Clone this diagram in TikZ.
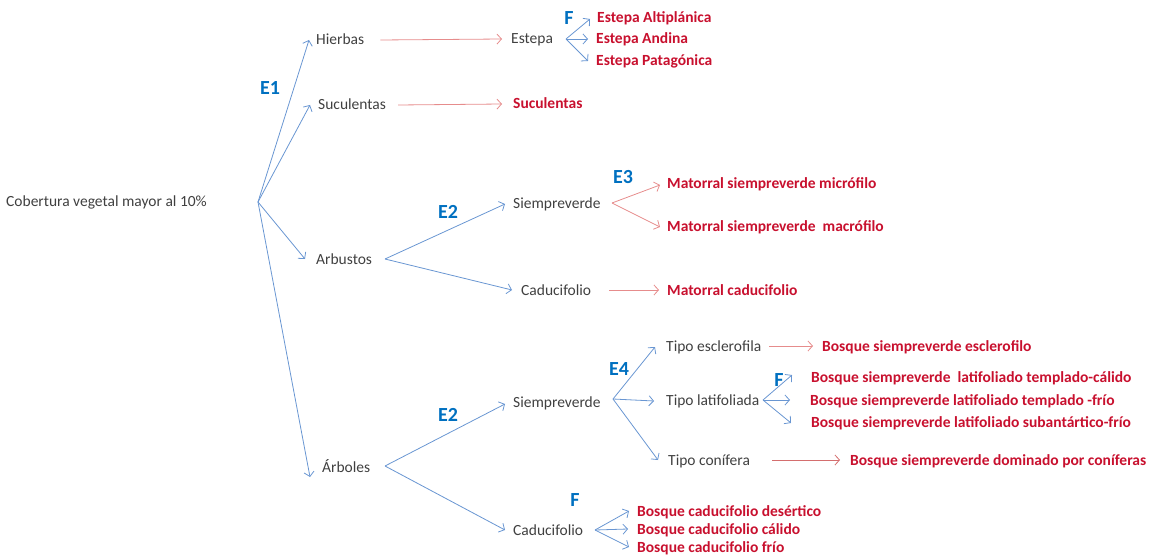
\documentclass[tikz,border=0pt]{standalone}
\usepackage{fontspec}
\setmainfont{Carlito}
\usetikzlibrary{arrows.meta}
\definecolor{txt}{RGB}{64,64,64}
\definecolor{redtxt}{RGB}{200,16,46}
\definecolor{lbl}{RGB}{0,112,192}
\definecolor{bline}{RGB}{105,150,210}
\definecolor{rline}{RGB}{230,140,140}
\definecolor{rdark}{RGB}{212,110,110}
\tikzset{
  term/.style={anchor=west, inner sep=0pt, text height=1.0em, text depth=0em,
    font=\fontsize{15.5}{18}\selectfont, text=txt},
  leaf/.style={term, font=\fontsize{15.5}{18}\selectfont\bfseries, text=redtxt},
  crit/.style={inner sep=0pt, font=\fontsize{20}{24}\selectfont\bfseries, text=lbl},
  tip/.style={-{Straight Barb[length=4.5pt,width=10pt,line width=0.8pt]}},
  barrow/.style={draw=bline, line width=0.8pt, tip},
  rarrow/.style={draw=rline, line width=0.8pt, tip},
  rdarrow/.style={draw=rdark, line width=0.8pt, tip},
}
\begin{document}
\begin{tikzpicture}[x=1pt,y=-1pt]
\useasboundingbox (0,0) rectangle (1156,556);

% root and first level
\node[term] (root) at (6,202) {Cobertura vegetal mayor al 10\%};
\coordinate (r) at (258,202);
\node[term] (hierbas) at (316,40) {Hierbas};
\node[term] (suc) at (318,105) {Suculentas};
\node[term] (arbustos) at (316,259) {Arbustos};
\node[term] (arboles) at (322,467) {Árboles};
\node[crit] (e1) at (270,88) {E1};

\draw[barrow] (r) -- ([xshift=-7pt]hierbas.west);
\draw[barrow] (r) -- ([xshift=-8pt]suc.west);
\draw[barrow] (r) -- ([xshift=-11pt]arbustos.west);
\draw[barrow] (r) -- ([xshift=-12pt,yshift=-10pt]arboles.west);

% herbs
\node[term] (estepa) at (511,39) {Estepa};
\draw[rarrow] ([xshift=16pt]hierbas.east) -- ([xshift=-9pt]estepa.west);
\coordinate (fe) at (566,39);
\node[crit] (f1) at (569,18) {F};
\node[leaf] (alti) at (597,18) {Estepa Altiplánica};
\node[leaf] (andina) at (596,39) {Estepa Andina};
\node[leaf] (pata) at (596,61) {Estepa Patagónica};
\draw[barrow] (fe) -- ([xshift=-7pt,yshift=-1pt]alti.west);
\draw[barrow] (fe) -- ([xshift=-8pt]andina.west);
\draw[barrow] (fe) -- ([xshift=-8pt]pata.west);

% succulents
\node[leaf] (sucR) at (513,104) {Suculentas};
\draw[rarrow] ([xshift=12pt,yshift=0pt]suc.east) -- ([xshift=-11pt]sucR.west);

% shrubs
\coordinate (fa) at (385,259);
\node[crit] (e2a) at (448,212) {E2};
\node[term] (sva) at (513,203) {Siempreverde};
\node[term] (cda) at (521,290) {Caducifolio};
\draw[barrow] (fa) -- ([xshift=-8pt,yshift=-1pt]sva.west);
\draw[barrow] (fa) -- ([xshift=-9pt]cda.west);

\coordinate (fs) at (612,203);
\node[crit] (e3) at (623,177) {E3};
\node[leaf] (micro) at (667,184) {Matorral siempreverde micrófilo};
\node[leaf] (macro) at (667,226) {Matorral siempreverde\ \ macrófilo};
\draw[rarrow] (fs) -- ([xshift=-7pt,yshift=-1pt]micro.west);
\draw[rarrow] (fs) -- ([xshift=-7pt,yshift=-1pt]macro.west);

\node[leaf] (matcad) at (667,290) {Matorral caducifolio};
\draw[rarrow] ([xshift=18pt]cda.east) -- ([xshift=-8pt]matcad.west);

% trees
\coordinate (ft) at (385,466);
\node[crit] (e2b) at (448,415) {E2};
\node[term] (svb) at (513,402) {Siempreverde};
\node[term] (cdb) at (513,530) {Caducifolio};
\draw[barrow] (ft) -- ([xshift=-8pt,yshift=-2pt]svb.west);
\draw[barrow] (ft) -- ([xshift=-8pt]cdb.west);

\coordinate (fv) at (613,399);
\node[crit] (e4) at (619,369) {E4};
\node[term] (escl) at (666,346) {Tipo esclerofila};
\node[term] (lati) at (666,400) {Tipo latifoliada};
\node[term] (coni) at (668,460) {Tipo conífera};
\draw[barrow] (fv) -- ([xshift=-11pt,yshift=-1pt]escl.west);
\draw[barrow] (fv) -- ([xshift=-12pt,yshift=-1pt]lati.west);
\draw[barrow] (fv) -- ([xshift=-10pt]coni.west);

\node[leaf] (bescl) at (822,346) {Bosque siempreverde esclerofilo};
\draw[rarrow] ([xshift=8pt]escl.east) -- ([xshift=-9pt]bescl.west);

\coordinate (fl) at (763,400);
\node[crit] (f2) at (779,380) {F};
\node[leaf] (tc) at (811,377) {Bosque siempreverde\ \ latifoliado templado-cálido};
\node[leaf] (tf) at (810,400) {Bosque siempreverde latifoliado templado -frío};
\node[leaf] (sf) at (811,422) {Bosque siempreverde latifoliado subantártico-frío};
\draw[barrow] (fl) -- ([xshift=-19pt,yshift=2pt]tc.west);
\draw[barrow] (fl) -- ([xshift=-20pt]tf.west);
\draw[barrow] (fl) -- ([xshift=-20pt,yshift=-1pt]sf.west);

\node[leaf] (bcon) at (850,460) {Bosque siempreverde dominado por coníferas};
\draw[rdarrow] ([xshift=22pt]coni.east) -- ([xshift=-10pt]bcon.west);

\coordinate (fc) at (595,530);
\node[crit] (f3) at (575,500) {F};
\node[leaf] (des) at (637,511) {Bosque caducifolio desértico};
\node[leaf] (cal) at (637,529) {Bosque caducifolio cálido};
\node[leaf] (fri) at (637,547) {Bosque caducifolio frío};
\draw[barrow] (fc) -- ([xshift=-8pt]des.west);
\draw[barrow] (fc) -- ([xshift=-9pt]cal.west);
\draw[barrow] (fc) -- ([xshift=-8pt]fri.west);
\end{tikzpicture}
\end{document}
